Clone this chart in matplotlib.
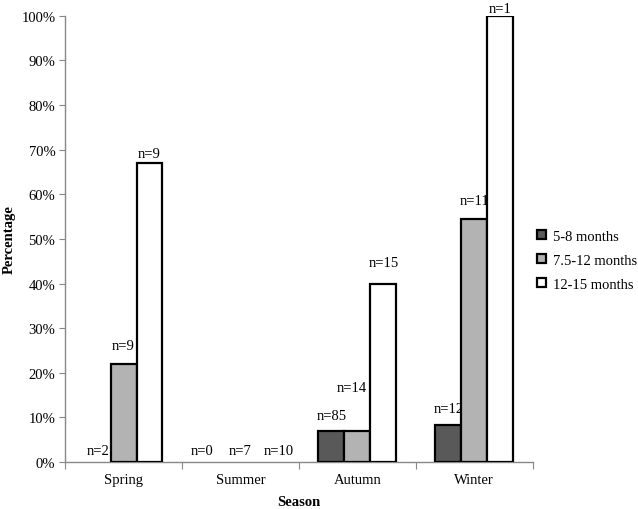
import numpy as np
import matplotlib.pyplot as plt
from matplotlib.ticker import FuncFormatter

plt.rcParams['font.family'] = ['Liberation Serif', 'DejaVu Serif']

seasons = ['Spring', 'Summer', 'Autumn', 'Winter']
series_names = ['5-8 months', '7.5-12 months', '12-15 months']
values = [
    [0, 0, 7, 8.3],       # 5-8 months
    [22, 0, 7, 54.5],     # 7.5-12 months
    [67, 0, 40, 100],     # 12-15 months
]
counts = [
    ['n=2', 'n=0', 'n=85', 'n=12'],
    ['n=9', 'n=7', 'n=14', 'n=11'],
    ['n=9', 'n=10', 'n=15', 'n=1'],
]
colors = ['#595959', '#b3b3b3', '#ffffff']
# label offsets (x, y) from the bar top, in points
label_dx = [
    [0, -9, 0, 0],
    [0, 0, -4, 0],
    [0, 9, 0, 0],
]
label_dy = [
    [8, 8, 11, 12],
    [13, 8, 31, 13],
    [7, 8, 15, 5],
]

fig = plt.figure(figsize=(6.38, 5.10), dpi=100)
ax = fig.add_axes([0.102, 0.092, 0.733, 0.875])

centers = np.arange(len(seasons)) + 0.5
w = 0.222
for i, name in enumerate(series_names):
    xs = centers + (i - 1) * w
    lw = [1.6 if v > 0 else 0 for v in values[i]]
    ax.bar(xs, values[i], width=w, color=colors[i], edgecolor='black',
           linewidth=lw, zorder=3)
    # legend proxy
    ax.bar([0], [0], width=0, color=colors[i], edgecolor='black',
           linewidth=1.6, label=name)
    for j, x in enumerate(xs):
        ax.annotate(counts[i][j], (x, values[i][j]),
                    xytext=(label_dx[i][j], label_dy[i][j]),
                    textcoords='offset points', ha='center', va='center', fontsize=10.5)

ax.set_xlim(0, 4)
ax.set_ylim(0, 100)
ax.set_yticks(np.arange(0, 101, 10))
ax.yaxis.set_major_formatter(FuncFormatter(lambda v, p: f'{int(v)}%'))
ax.set_xticks(np.arange(0, 5))
ax.set_xticklabels([])
ax.set_xticks(centers, minor=True)
ax.set_xticklabels(seasons, minor=True)
ax.tick_params(axis='x', which='minor', length=0, pad=8, labelsize=10.5)
ax.tick_params(axis='x', which='major', length=5, color='#888888', direction='out')
ax.tick_params(axis='y', length=4, color='#888888', labelsize=10.5, pad=3)

for s in ['top', 'right']:
    ax.spines[s].set_visible(False)
for s in ['left', 'bottom']:
    ax.spines[s].set_color('#888888')
    ax.spines[s].set_linewidth(1.0)

ax.set_ylabel('Percentage', fontweight='bold', fontsize=10.5)
ax.yaxis.set_label_coords(-0.105, 0.5)
ax.set_xlabel('Season', fontweight='bold', fontsize=10.5, labelpad=6)

fig.legend(loc='upper left', bbox_to_anchor=(537 / 638, (510 - 231) / 510),
           frameon=False, fontsize=10.5, handlelength=0.6, handleheight=0.6,
           handletextpad=0.5, labelspacing=0.75, borderpad=0, borderaxespad=0)

fig.savefig('out.png', dpi=100)
